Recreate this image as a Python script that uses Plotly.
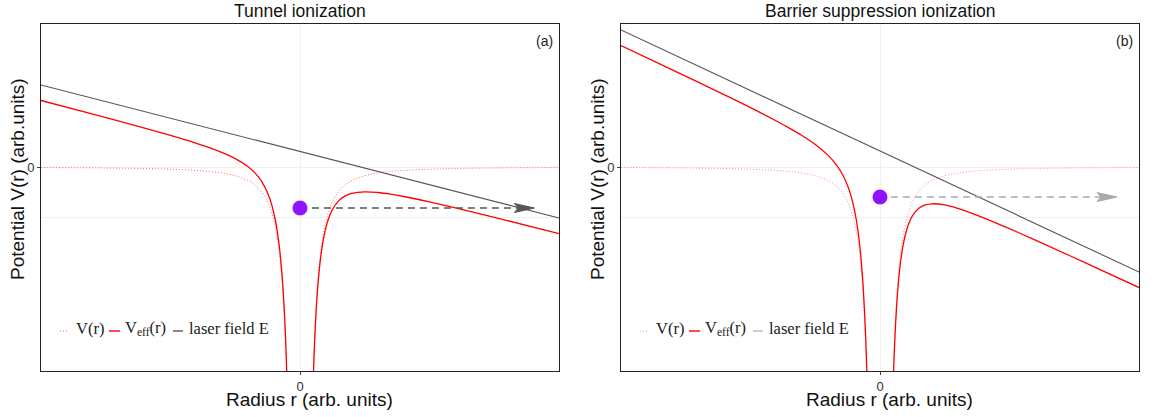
import plotly.graph_objects as go

# ---------------- data (data units) ----------------
X_LEFT = [-10, -8, -6, -5, -4, -3.5, -3, -2.5, -2, -1.75, -1.5, -1.25, -1.1, -1.0,
          -0.9, -0.8, -0.7, -0.65, -0.6, -0.55, -0.5]
X_RIGHT = [0.5, 0.55, 0.6, 0.65, 0.7, 0.8, 0.9, 1.0, 1.1, 1.25, 1.5, 1.75, 2.0,
           2.5, 3.0, 3.5, 4, 5, 6, 8, 10]

# Coulomb-like potential V(r) (dotted)
V_LEFT = [-0.011, -0.017, -0.030, -0.044, -0.068, -0.089, -0.121, -0.174, -0.272,
          -0.355, -0.484, -0.696, -0.899, -1.088, -1.343, -1.700, -2.220, -2.575,
          -3.022, -3.597, -4.352]
V_RIGHT = [-4.352, -3.597, -3.022, -2.575, -2.220, -1.700, -1.343, -1.088, -0.899,
           -0.696, -0.484, -0.355, -0.272, -0.174, -0.121, -0.089, -0.068, -0.044,
           -0.030, -0.017, -0.011]

# Panel (a): tunnel ionization
VEFF_A_LEFT = [1.330, 1.057, 0.778, 0.632, 0.474, 0.387, 0.288, 0.168, 0.004, -0.112,
               -0.274, -0.520, -0.743, -0.945, -1.213, -1.584, -2.117, -2.479,
               -2.932, -3.514, -4.276]
VEFF_A_RIGHT = [-4.409, -3.660, -3.092, -2.651, -2.303, -1.796, -1.453, -1.211,
                -1.035, -0.852, -0.673, -0.578, -0.528, -0.497, -0.510, -0.544,
                -0.590, -0.699, -0.818, -1.071, -1.331]
LASER_X = [-10, 10]
LASER_A_Y = [1.64, -1.02]
ELECTRON_A = (0, -0.82)
ARROW_A = (0.46, 9.05)   # dashed path start x, arrow tip x

# Panel (b): barrier suppression ionization
VEFF_B_LEFT = [2.429, 1.939, 1.442, 1.187, 0.920, 0.778, 0.625, 0.451, 0.232, 0.088,
               -0.101, -0.374, -0.613, -0.826, -1.105, -1.486, -2.031, -2.398,
               -2.857, -3.444, -4.211]
VEFF_B_RIGHT = [-4.453, -3.710, -3.147, -2.712, -2.369, -1.874, -1.541, -1.310,
                -1.145, -0.979, -0.827, -0.759, -0.736, -0.759, -0.827, -0.916,
                -1.016, -1.234, -1.462, -1.933, -2.411]
LASER_B_Y = [2.74, -2.10]
ELECTRON_B = (0, -0.60)
ARROW_B = (0.42, 9.15)

TITLES = ["Tunnel ionization", "Barrier suppression ionization"]
PANEL_TAGS = ["(a)", "(b)"]
X_TITLE = "Radius r (arb. units)"
Y_TITLE = "Potential V(r) (arb.units)"
LEGEND_TEXT = ["V(r)", "V<sub>eff</sub>(r)", "laser field E"]

X_RANGE = [-10, 10]
Y_RANGE = [-4.08, 2.86]

# ---------------- layout geometry ----------------
W, H = 1157, 417
L, R, T, B = 41, 18, 24, 46
PW = W - L - R
PH = H - T - B
PX_PER_X = 518 / (X_RANGE[1] - X_RANGE[0])
PX_PER_Y = PH / (Y_RANGE[1] - Y_RANGE[0])


def xp(px):
    return (px - L) / PW


def yp(py):
    return (H - B - py) / PH


SANS = "Liberation Sans, Arial, sans-serif"
SERIF = "Liberation Serif, Times New Roman, serif"

fig = go.Figure()

panels = [
    dict(xa="x", ya="y", veff_l=VEFF_A_LEFT, veff_r=VEFF_A_RIGHT, laser=LASER_A_Y,
         e=ELECTRON_A, arr=ARROW_A, vcol="rgba(255,0,0,0.6)", lcol="#555555",
         acol="#555555", legcol="#555555", offset=0),
    dict(xa="x2", ya="y2", veff_l=VEFF_B_LEFT, veff_r=VEFF_B_RIGHT, laser=LASER_B_Y,
         e=ELECTRON_B, arr=ARROW_B, vcol="rgba(255,0,0,0.45)", lcol="#555555",
         acol="#aaaaaa", legcol="#bbbbbb", offset=580),
]

for p in panels:
    for xs, ys in ((X_LEFT, V_LEFT), (X_RIGHT, V_RIGHT)):
        fig.add_trace(go.Scatter(x=xs, y=ys, xaxis=p["xa"], yaxis=p["ya"], mode="lines",
                                 line=dict(color=p["vcol"], width=1.0, dash="1px,2px",
                                           shape="spline"),
                                 showlegend=False, hoverinfo="skip"))
    fig.add_trace(go.Scatter(x=LASER_X, y=p["laser"], xaxis=p["xa"], yaxis=p["ya"], mode="lines",
                             line=dict(color=p["lcol"], width=1.1), showlegend=False))
    for xs, ys in ((X_LEFT, p["veff_l"]), (X_RIGHT, p["veff_r"])):
        fig.add_trace(go.Scatter(x=xs, y=ys, xaxis=p["xa"], yaxis=p["ya"], mode="lines",
                                 line=dict(color="#ff0000", width=1.3, shape="spline"),
                                 showlegend=False))
    # dashed path of the electron with a slim arrow head
    ey = p["e"][1]
    tip = p["arr"][1]
    hl = 20 / PX_PER_X      # head length (data units)
    hh = 4.5 / PX_PER_Y     # half head height (data units)
    notch = 4 / PX_PER_X
    fig.add_trace(go.Scatter(x=[p["arr"][0], tip - hl + notch], y=[ey, ey],
                             xaxis=p["xa"], yaxis=p["ya"], mode="lines",
                             line=dict(color=p["acol"], width=1.5, dash="7px,5px"),
                             showlegend=False))
    fig.add_shape(type="path", xref=p["xa"], yref=p["ya"],
                  path=(f"M {tip} {ey} L {tip - hl} {ey + hh} L {tip - hl + notch} {ey} "
                        f"L {tip - hl} {ey - hh} Z"),
                  fillcolor=p["acol"], line=dict(color=p["acol"], width=1))
    # electron
    fig.add_trace(go.Scatter(x=[p["e"][0]], y=[ey], xaxis=p["xa"], yaxis=p["ya"],
                             mode="markers", marker=dict(color="#9013fe", size=15),
                             showlegend=False))

    # hand-drawn legend
    o = p["offset"]
    samples = [((60, 69), dict(color=p["vcol"], width=1.2, dash="1px,2px")),
               ((109, 120), dict(color="#ff0000", width=1.4)),
               ((173, 183), dict(color=p["legcol"], width=1.4))]
    for (a, b), ln in samples:
        fig.add_shape(type="line", xref="paper", yref="paper",
                      x0=xp(a + o), x1=xp(b + o), y0=yp(331), y1=yp(331), line=ln)
    for txt, px in zip(LEGEND_TEXT, (74, 123, 187)):
        fig.add_annotation(x=xp(px + o), y=yp(328), xref="paper", yref="paper",
                           text=txt, showarrow=False, xanchor="left", yanchor="middle",
                           font=dict(family=SERIF, size=16.5, color="#222222"))

# titles, tags, axis titles
for i, (title, tag) in enumerate(zip(TITLES, PANEL_TAGS)):
    o = 580 * i
    fig.add_annotation(x=xp(300 + o), y=yp(11), xref="paper", yref="paper", text=title,
                       showarrow=False, xanchor="center", yanchor="middle",
                       font=dict(family=SANS, size=17.5, color="#111111"))
    fig.add_annotation(x=xp(555 + o), y=yp(41), xref="paper", yref="paper", text=tag,
                       showarrow=False, xanchor="right", yanchor="middle",
                       font=dict(family=SANS, size=14, color="#222222"))
    fig.add_annotation(x=xp(309 + o), y=yp(400), xref="paper", yref="paper", text=X_TITLE,
                       showarrow=False, xanchor="center", yanchor="middle",
                       font=dict(family=SANS, size=19, color="#111111"))
    fig.add_annotation(x=xp(18 + o), y=yp(179), xref="paper", yref="paper", text=Y_TITLE,
                       showarrow=False, xanchor="center", yanchor="middle", textangle=-90,
                       font=dict(family=SANS, size=19, color="#111111"))

axis_common = dict(showline=True, mirror=True, linecolor="#222222", linewidth=1,
                   ticks="outside", ticklen=3, tickcolor="#444444", tickvals=[0],
                   ticktext=["0"], tickfont=dict(family=SANS, size=13, color="#333333"),
                   showgrid=True, gridcolor="#f0f0f0", gridwidth=1, zeroline=False)

dom_a = [0, 518 / PW]
dom_b = [(621 - L) / PW, 1]

fig.update_layout(
    width=W, height=H, margin=dict(l=L, r=R, t=T, b=B),
    plot_bgcolor="white", paper_bgcolor="white", showlegend=False,
    xaxis=dict(domain=dom_a, range=X_RANGE, anchor="y", ticklabelstandoff=0, **axis_common),
    yaxis=dict(domain=[0, 1], range=Y_RANGE, anchor="x",
               minor=dict(tickvals=[-1], showgrid=True, gridcolor="#f0f0f0", ticks=""),
               **axis_common),
    xaxis2=dict(domain=dom_b, range=X_RANGE, anchor="y2", ticklabelstandoff=0, **axis_common),
    yaxis2=dict(domain=[0, 1], range=Y_RANGE, anchor="x2",
                minor=dict(tickvals=[-1], showgrid=True, gridcolor="#f0f0f0", ticks=""),
                **axis_common),
)

fig.write_html("out.html")
